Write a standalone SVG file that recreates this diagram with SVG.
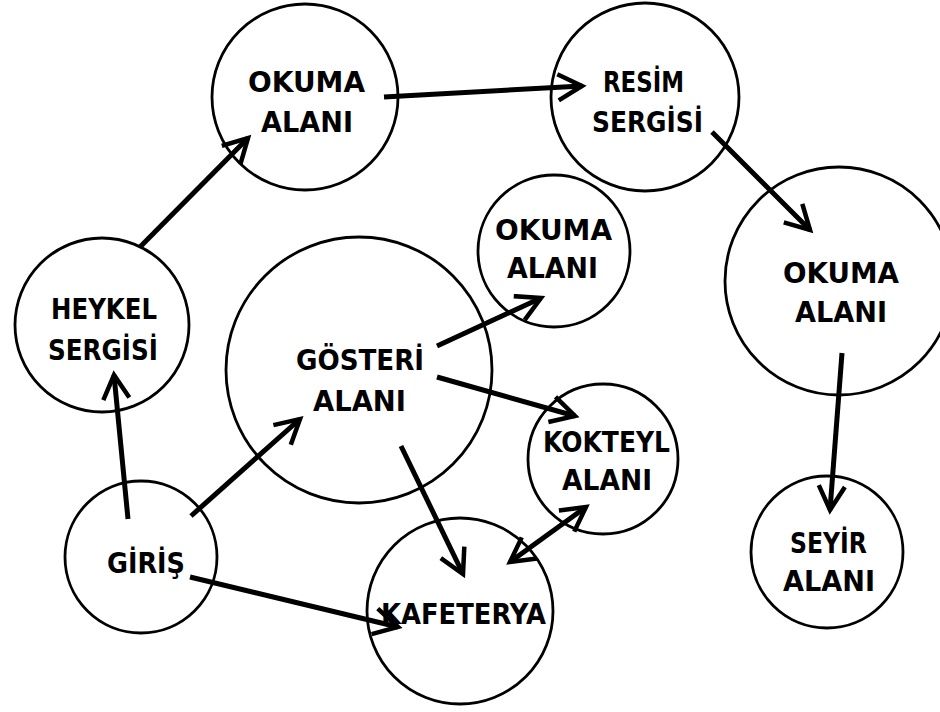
<svg xmlns="http://www.w3.org/2000/svg" width="940" height="712" viewBox="0 0 940 712">
<defs>
<style>
.n{fill:#fff;stroke:#000;stroke-width:2.8}
.t{font-family:"DejaVu Sans","Liberation Sans",Arial,sans-serif;font-weight:bold;font-size:29px;fill:#000}
.c{stroke:#000;stroke-width:5;fill:none;marker-end:url(#ah)}
</style>
<marker id="ah" markerWidth="8" markerHeight="8" refX="6" refY="4" orient="auto" markerUnits="strokeWidth" viewBox="0 0 8 8">
<path d="M1.6,1.6 L6,4 L1.6,6.4" fill="none" stroke="#000" stroke-width="0.9" stroke-linecap="square"/>
</marker>
<marker id="as" markerWidth="8" markerHeight="8" refX="2" refY="4" orient="auto" markerUnits="strokeWidth" viewBox="0 0 8 8">
<path d="M6.4,1.6 L2,4 L6.4,6.4" fill="none" stroke="#000" stroke-width="0.9" stroke-linecap="square"/>
</marker>
</defs>
<rect width="940" height="712" fill="#fff"/>
<g id="n-okuma1"><circle class="n" cx="305" cy="97" r="93"/><text class="t" x="248" y="92" textLength="117" lengthAdjust="spacingAndGlyphs">OKUMA</text><text class="t" x="261" y="132" textLength="92" lengthAdjust="spacingAndGlyphs">ALANI</text></g>
<g id="n-resim"><circle class="n" cx="645" cy="97" r="94"/><text class="t" x="603" y="92" textLength="81" lengthAdjust="spacingAndGlyphs">RESİM</text><text class="t" x="592" y="132" textLength="111" lengthAdjust="spacingAndGlyphs">SERGİSİ</text></g>
<g id="n-okuma3"><circle class="n" cx="839" cy="281" r="114"/><text class="t" x="783" y="283" textLength="116" lengthAdjust="spacingAndGlyphs">OKUMA</text><text class="t" x="795" y="322" textLength="92" lengthAdjust="spacingAndGlyphs">ALANI</text></g>
<g id="n-heykel"><circle class="n" cx="102" cy="325" r="87"/><text class="t" x="51" y="319" textLength="106" lengthAdjust="spacingAndGlyphs">HEYKEL</text><text class="t" x="48" y="360" textLength="110" lengthAdjust="spacingAndGlyphs">SERGİSİ</text></g>
<g id="n-gosteri"><circle class="n" cx="359" cy="370" r="133"/><text class="t" x="296" y="370" textLength="128" lengthAdjust="spacingAndGlyphs">GÖSTERİ</text><text class="t" x="313" y="411" textLength="93" lengthAdjust="spacingAndGlyphs">ALANI</text></g>
<g id="n-okuma2"><circle class="n" cx="554" cy="251" r="76"/><text class="t" x="495" y="240" textLength="117" lengthAdjust="spacingAndGlyphs">OKUMA</text><text class="t" x="507" y="278" textLength="91" lengthAdjust="spacingAndGlyphs">ALANI</text></g>
<g id="n-kokteyl"><circle class="n" cx="603" cy="459" r="75"/><text class="t" x="543" y="452" textLength="127" lengthAdjust="spacingAndGlyphs">KOKTEYL</text><text class="t" x="562" y="490" textLength="90" lengthAdjust="spacingAndGlyphs">ALANI</text></g>
<g id="n-giris"><circle class="n" cx="141" cy="557" r="76"/><text class="t" x="107" y="573" textLength="78" lengthAdjust="spacingAndGlyphs">GİRİŞ</text></g>
<g id="n-kafe"><circle class="n" cx="460" cy="611" r="93"/><text class="t" x="381" y="624" textLength="165" lengthAdjust="spacingAndGlyphs">KAFETERYA</text></g>
<g id="n-seyir"><circle class="n" cx="827" cy="552" r="76"/><text class="t" x="790" y="553" textLength="77" lengthAdjust="spacingAndGlyphs">SEYİR</text><text class="t" x="783" y="591" textLength="92" lengthAdjust="spacingAndGlyphs">ALANI</text></g>
<g id="connectors">
<line class="c" x1="128" y1="519" x2="114" y2="375"/>
<line class="c" x1="140" y1="247" x2="248" y2="138"/>
<line class="c" x1="384" y1="97" x2="582" y2="86"/>
<line class="c" x1="712" y1="132" x2="810" y2="230"/>
<line class="c" x1="842" y1="353" x2="830" y2="510"/>
<line class="c" x1="437" y1="346" x2="541" y2="298"/>
<line class="c" x1="437" y1="377" x2="575" y2="416"/>
<line class="c" x1="401" y1="446" x2="463" y2="574"/>
<line class="c" x1="191" y1="516" x2="300" y2="419"/>
<line class="c" x1="190" y1="577" x2="398" y2="627"/>
<line class="c" x1="510" y1="562" x2="586" y2="507" marker-start="url(#as)"/>
</g>
</svg>
